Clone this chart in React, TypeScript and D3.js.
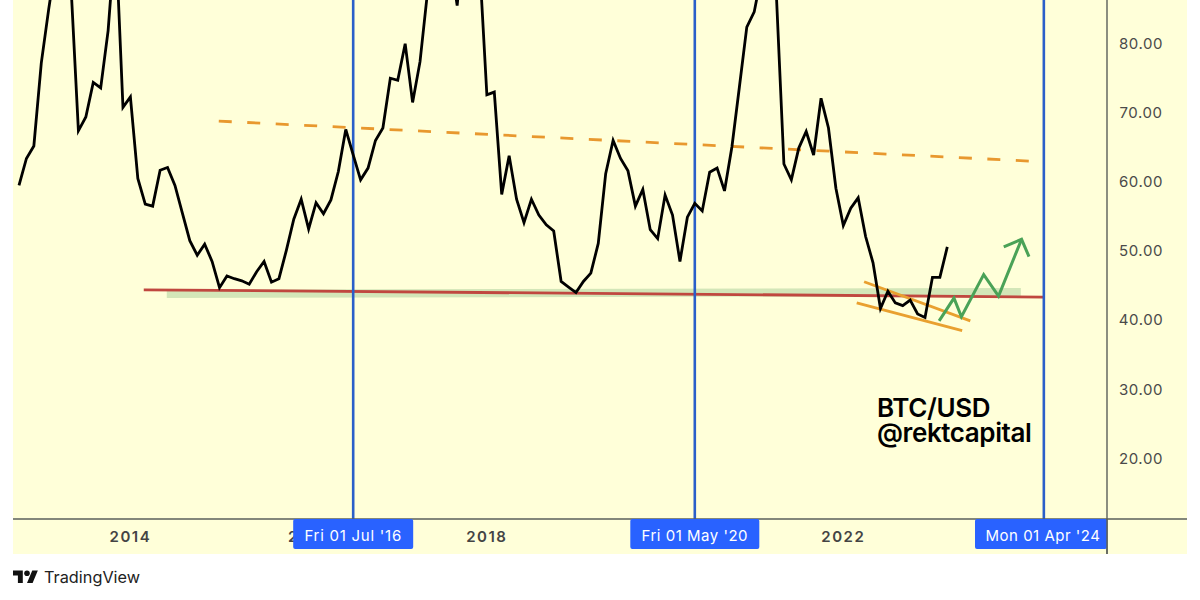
import React from "react";
import * as d3 from "d3";

// Monthly series, first point Oct 2012. Values above about 86 are off the visible chart.
const seriesValues = [
  59.4, 63.3, 65.1, 77.1, 84.9, 92, 96, 88.3, 67.3, 69.3, 74.3, 73.5, 81.8, 96, 70.7, 72.2,
  60.4, 56.7, 56.4, 61.6, 62.0, 59.4, 55.4, 51.4, 49.3, 50.9, 48.4, 44.6, 46.3, 45.9, 45.6, 45.1,
  46.9, 48.4, 45.4, 45.9, 50.0, 54.5, 57.4, 53.1, 56.9, 55.3, 57.3, 61.4, 67.5, 63.8, 60.2, 61.9,
  65.9, 67.7, 74.9, 74.6, 79.9, 71.4, 77.3, 87.3, 90, 97, 93, 85.4, 97, 95, 91.9, 72.5,
  72.9, 58.1, 63.7, 57.4, 54.0, 57.4, 55.1, 53.7, 52.8, 45.5, 44.7, 43.9, 45.5, 46.7, 51.0, 61.1,
  65.9, 63.3, 61.5, 56.4, 58.8, 53.0, 51.7, 58.0, 55.1, 48.4, 54.8, 56.8, 55.7, 61.3, 61.9, 58.6,
  65.0, 73.6, 82.3, 84.5, 90, 95, 86.6, 62.5, 60.2, 64.8, 67.2, 63.8, 72.0, 67.7, 59.0, 53.6,
  56.1, 57.6, 52.0, 48.2, 41.6, 44.1, 42.4, 42.0, 42.8, 40.8, 40.3, 46.1, 46.1, 50.5,
];
const startYear = 2012;
const startMonth = 9;
const yTicks = [20, 30, 40, 50, 60, 70, 80];
const yearTicks = [2014, 2016, 2018, 2022];
const markers = [
  { year: 2016, month: 6, label: "Fri 01 Jul '16" },
  { year: 2020, month: 4, label: "Fri 01 May '20" },
  { year: 2024, month: 3, label: "Mon 01 Apr '24" },
];
// Drawings: [months since start, value]
const dashedTrend: [number, number][] = [[26.9, 68.7], [136.4, 62.9]];
const supportLine: [number, number][] = [[16.8, 44.3], [137.9, 43.25]];
const supportBand: [number, number][] = [[19.9, 44.3], [134.9, 44.55], [134.9, 43.4], [19.9, 43.1]];
const flagUpper: [number, number][] = [[113.8, 45.46], [128.1, 39.8]];
const flagLower: [number, number][] = [[112.8, 42.4], [127, 38.4]];
const arrowPath: [number, number][] = [[123.9, 39.8], [125.9, 43.1], [126.9, 40.4], [129.9, 46.5], [131.9, 43.4], [135, 51.6]];
const arrowHead: [number, number][] = [[132.6, 50.5], [135, 51.6], [136, 49.1]];

const W = 1200, H = 600;
const frame = { l: 13, r: 1187, t: 0, b: 554 };
const axisX = 1107, axisY = 519;
const SANS = "Inter, Roboto, 'Noto Sans', sans-serif";

const x = d3.scaleLinear().domain([0, 125]).range([19, 947.3]);
const y = d3.scaleLinear().domain([40, 80]).range([319.5, 43]);
const monthIdx = (yr: number, m: number) => (yr - startYear) * 12 + m - startMonth;
const line = d3.line<[number, number]>().x((d) => x(d[0])).y((d) => y(d[1]));
const seriesPts = seriesValues.map((v, i) => [i, v] as [number, number]);

export default function App() {
  return (
    <svg width={W} height={H} style={{ position: "absolute", left: 0, top: 0, background: "#fff" }}>
      <defs>
        <clipPath id="plot"><rect x={frame.l} y={0} width={axisX - frame.l} height={axisY} /></clipPath>
      </defs>
      <rect x={frame.l} y={frame.t} width={frame.r - frame.l} height={frame.b - frame.t} fill="#ffffd9" />
      <g clipPath="url(#plot)">
        <path d={line(supportBand)! + "Z"} fill="#d3e6b8" />
        <path d={line(supportLine)!} fill="none" stroke="#c0473f" strokeWidth={2.8} />
        <path d={line(dashedTrend)!} fill="none" stroke="#e8982e" strokeWidth={2.8} strokeDasharray="13 15.5" />
        {markers.map((m) => (
          <line key={m.label} x1={x(monthIdx(m.year, m.month))} x2={x(monthIdx(m.year, m.month))} y1={0} y2={axisY} stroke="#2a5fc9" strokeWidth={2.6} />
        ))}
        <path d={line(flagUpper)!} fill="none" stroke="#e9a02f" strokeWidth={2.8} />
        <path d={line(flagLower)!} fill="none" stroke="#e9a02f" strokeWidth={2.8} />
        <path d={line(seriesPts)!} fill="none" stroke="#000" strokeWidth={2.8} strokeLinejoin="miter" />
        <path d={line(arrowPath)!} fill="none" stroke="#4aa257" strokeWidth={3} />
        <path d={line(arrowHead)!} fill="none" stroke="#4aa257" strokeWidth={3} />
      </g>
      <line x1={frame.l} x2={frame.r} y1={axisY} y2={axisY} stroke="#5a5f5a" strokeWidth={1.4} />
      <line x1={axisX} x2={axisX} y1={0} y2={frame.b} stroke="#5a5f5a" strokeWidth={1.4} />
      {yTicks.map((t) => (
        <text key={t} x={1141} y={y(t) + 0.5} dy="0.36em" textAnchor="middle" fontFamily={SANS} fontSize={15} letterSpacing={0.6} fill="#4a4a4a">
          {d3.format(".2f")(t)}
        </text>
      ))}
      {yearTicks.map((yr) => (
        <text key={yr} x={x(monthIdx(yr, 0))} y={537} dy="0.36em" textAnchor="middle" fontFamily={SANS} fontSize={15} fontWeight={600} letterSpacing={1.5} fill="#444">
          {yr}
        </text>
      ))}
      {markers.map((m) => {
        const cx = x(monthIdx(m.year, m.month));
        const w = m.year === 2024 ? 132 : m.year === 2020 ? 129 : 120;
        const left = m.year === 2024 ? 975 : cx - w / 2;
        return (
          <g key={m.label}>
            <rect x={left} y={axisY} width={w} height={30} rx={2} fill="#2962ff" />
            <text x={left + w / 2 + (m.year === 2024 ? 2 : 0)} y={536} dy="0.36em" textAnchor="middle" fontFamily={SANS} fontSize={15} letterSpacing={m.year === 2016 ? 0.75 : 0.5} fill="#fff">
              {m.label}
            </text>
          </g>
        );
      })}
      <line x1={axisX} x2={axisX} y1={axisY} y2={frame.b} stroke="#5a5f5a" strokeWidth={1.4} />
      <text fontFamily={SANS} fontSize={26} fontWeight={600} fill="#000" letterSpacing={-0.4}>
        <tspan x={877} y={416.5}>BTC/USD</tspan>
        <tspan x={877} y={442}>@rektcapital</tspan>
      </text>
      <g transform="translate(13,570.5) scale(0.7)" fill="#111">
        <path d="M14 18H7V7H0V0h14v18zM28 18h-8L27.5 0h8L28 18z" />
        <circle cx={20} cy={4} r={4} />
      </g>
      <text x={44} y={583} fontFamily={SANS} fontSize={16.3} fill="#222">TradingView</text>
    </svg>
  );
}
